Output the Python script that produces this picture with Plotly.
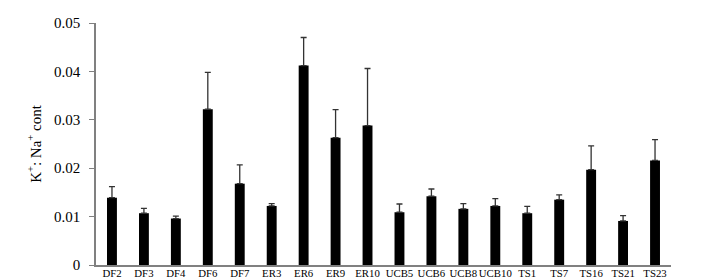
import plotly.graph_objects as go

categories = ["DF2", "DF3", "DF4", "DF6", "DF7", "ER3", "ER6", "ER9", "ER10",
              "UCB5", "UCB6", "UCB8", "UCB10", "TS1", "TS7", "TS16", "TS21", "TS23"]
values = [0.0139, 0.0107, 0.0096, 0.0322, 0.0168, 0.0122, 0.0412, 0.0263, 0.0288,
          0.0109, 0.0142, 0.0116, 0.0122, 0.0107, 0.0135, 0.0197, 0.0091, 0.0216]
errors = [0.0023, 0.0010, 0.0005, 0.0076, 0.0039, 0.0005, 0.0058, 0.0058, 0.0118,
          0.0017, 0.0015, 0.0011, 0.0015, 0.0014, 0.0010, 0.0049, 0.0011, 0.0043]
ytick_vals = [0, 0.01, 0.02, 0.03, 0.04, 0.05]
ytick_text = ["0", "0.01", "0.02", "0.03", "0.04", "0.05"]

fig = go.Figure(go.Bar(
    x=categories, y=values, width=0.31,
    marker=dict(color="black", line=dict(width=0)),
    error_y=dict(type="data", array=errors, arrayminus=[0] * len(errors), symmetric=False,
                 color="#333333", thickness=1.3, width=3),
))

fig.update_layout(
    width=701, height=279,
    margin=dict(l=88, r=38, t=15, b=22, autoexpand=False),
    paper_bgcolor="white", plot_bgcolor="white",
    font=dict(family="Liberation Serif", color="black"),
    showlegend=False,
)
fig.update_xaxes(
    range=[-0.5, 17.5], showline=True, linecolor="#808080", linewidth=1.5,
    ticks="", tickangle=0, automargin=False, ticklabelstandoff=-3,
    tickfont=dict(size=10.8, family="Liberation Serif"), showgrid=False,
)
fig.update_yaxes(
    range=[0, 0.05], tickvals=ytick_vals, ticktext=ytick_text, automargin=False,
    showline=True, linecolor="#808080", linewidth=1.5,
    ticks="outside", ticklen=5, tickcolor="#808080", tickwidth=1,
    tickfont=dict(size=15, family="Liberation Serif"), ticklabelstandoff=6,
    showgrid=False, zeroline=False,
    title=dict(text="K<sup>+</sup>: Na<sup>+</sup> cont", font=dict(size=15, family="Liberation Serif"), standoff=9),
)

fig.write_html("out.html")
